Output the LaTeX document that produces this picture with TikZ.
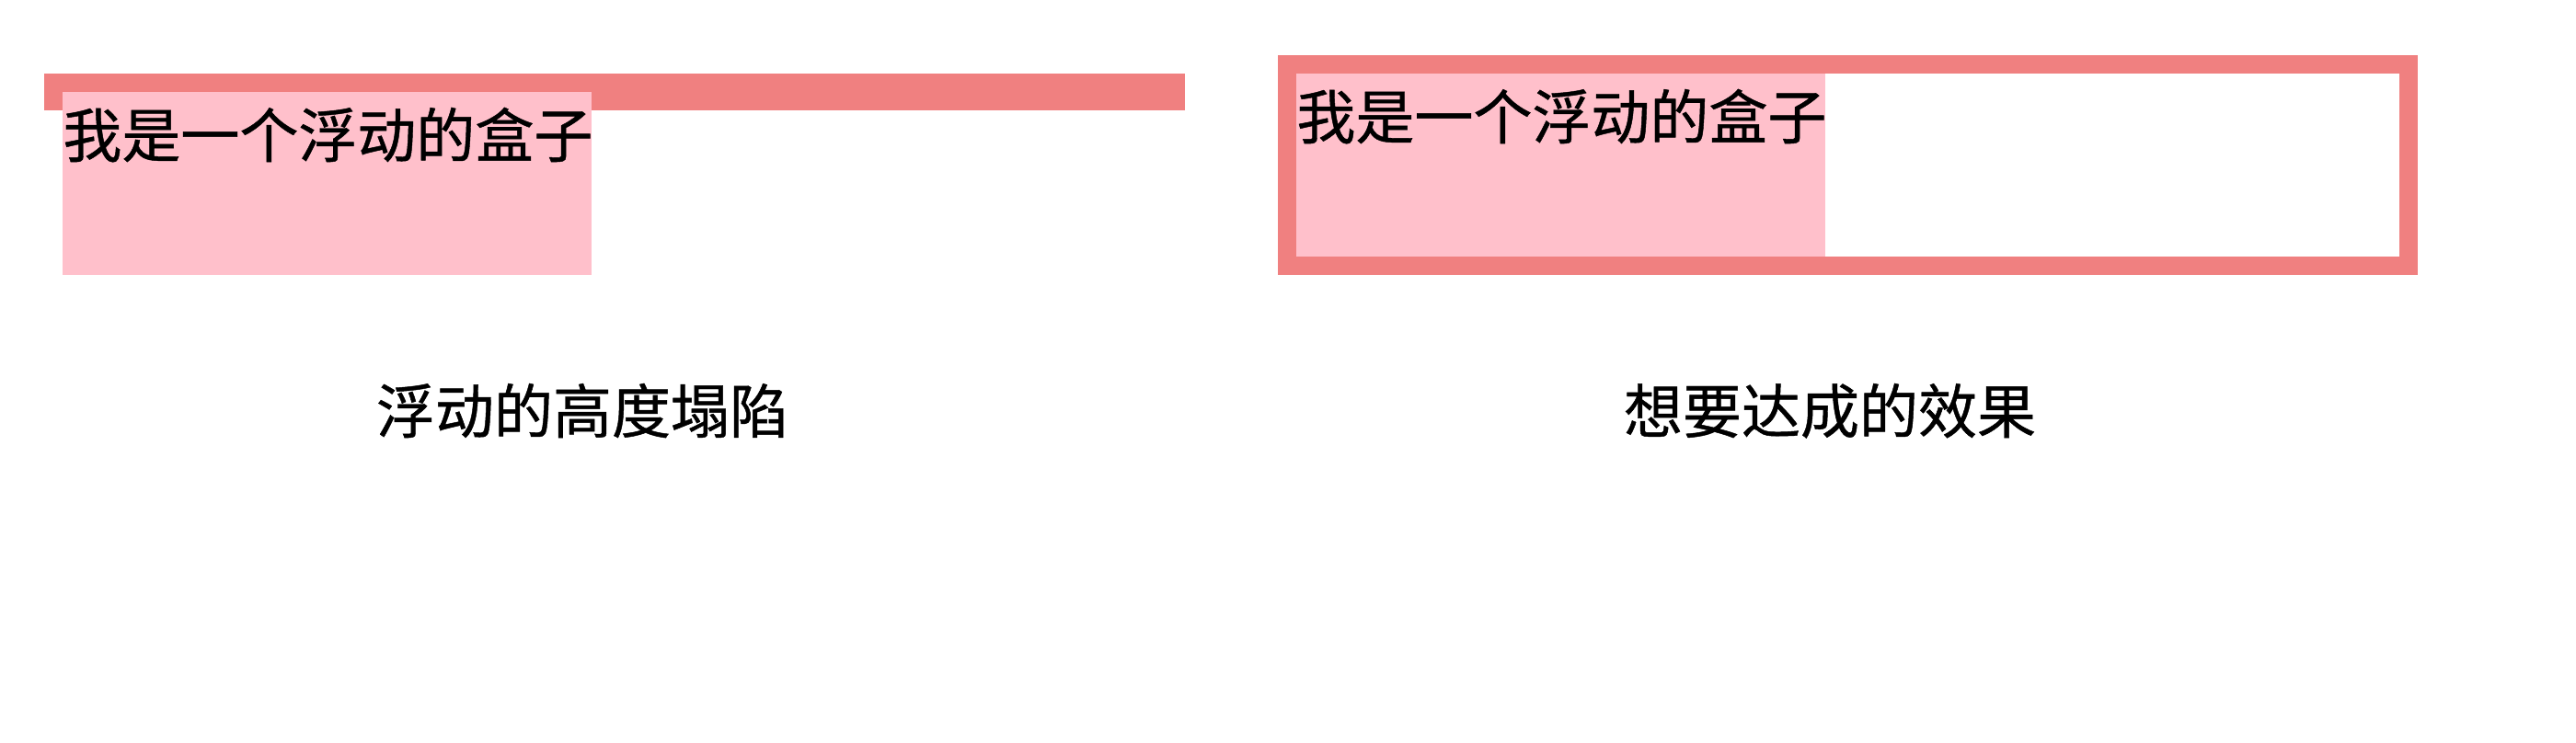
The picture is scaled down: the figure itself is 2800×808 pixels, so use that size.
\documentclass[tikz,border=0pt]{standalone}
\usepackage{fontspec}
\setmainfont{Noto Sans CJK SC}[FakeBold=0.7]
\definecolor{coral}{HTML}{F08080}
\definecolor{pinkbox}{HTML}{FFC0CB}
\begin{document}
\begin{tikzpicture}[x=0.5pt,y=-0.5pt,
  txt/.style={inner sep=0pt,font=\fontsize{32}{38}\selectfont,text=black}]
\useasboundingbox (0,0) rectangle (2800,808);
% left: collapsed parent
\fill[coral] (48,80) rectangle (1288,120);
\fill[pinkbox] (68,100) rectangle (643,299);
\node[txt,anchor=base west] (lt) at (68,171) {我是一个浮动的盒子};
% right: desired effect
\fill[coral] (1389,60) rectangle (2628,299);
\fill[white] (1409,80) rectangle (2608,279);
\fill[pinkbox] (1409,80) rectangle (1984,279);
\node[txt,anchor=base west] (rt) at (1409,151) {我是一个浮动的盒子};
% captions
\node[txt,anchor=base] (lc) at (633,471) {浮动的高度塌陷};
\node[txt,anchor=base] (rc) at (1989,471) {想要达成的效果};
\end{tikzpicture}
\end{document}
